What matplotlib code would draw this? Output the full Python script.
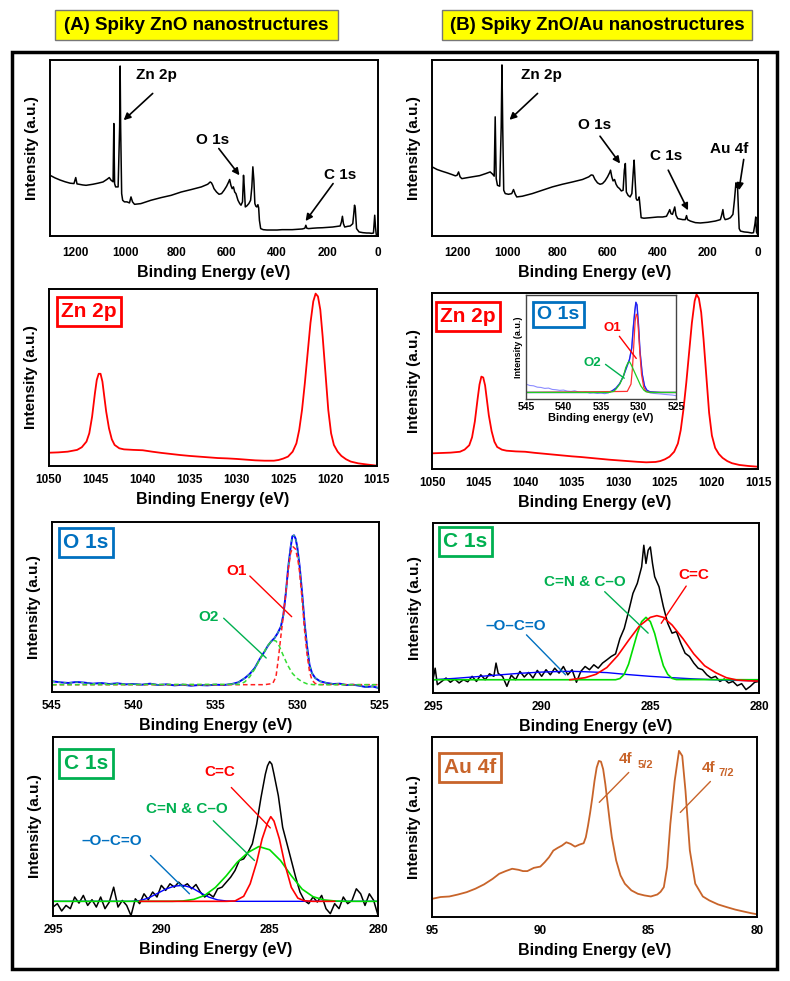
import matplotlib
matplotlib.use('Agg')
import matplotlib.pyplot as plt
from matplotlib.patches import Rectangle

plt.rcParams['font.family'] = ['Liberation Sans', 'DejaVu Sans']
plt.rcParams['font.weight'] = 'bold'

RED = '#FF0000'
GREEN = '#00B050'
BLUE = '#0070C0'
AU = '#C8642A'

# ---- survey spectra (eV, normalised intensity) ----
surv_a_ev = [1300, 1280, 1260, 1240, 1220, 1205, 1198, 1193, 1185, 1170, 1157, 1130, 1110, 1090, 1075,
             1065, 1058, 1050, 1047, 1044, 1040, 1030, 1024, 1022, 1020, 1016, 1012, 1005, 995, 985,
             979, 973, 965, 940, 900, 860, 820, 780, 740, 700, 675, 665, 660, 655, 650, 640, 630, 620,
             610, 600, 592, 588, 583, 578, 573, 568, 563, 555, 548, 543, 537, 533, 530, 526, 520, 512,
             505, 500, 496, 492, 488, 484, 480, 476, 473, 470, 465, 455, 440, 420, 400, 380, 360, 340,
             320, 300, 290, 286, 282, 275, 260, 240, 220, 200, 180, 160, 150, 145, 141, 137, 132, 120,
             110, 100, 96, 93, 90, 85, 75, 60, 45, 35, 25, 18, 13, 10, 7, 3, 0]
surv_a_int = [34.5, 33.0, 31.8, 30.8, 30.0, 29.8, 33.2, 29.6, 29.4, 29.0, 28.8, 29.4, 30.0, 30.7, 32.1,
              33.2, 31.7, 30.8, 63.9, 29.8, 27.9, 27.9, 62.0, 96.6, 62.0, 24.1, 20.3, 19.4, 19.4, 18.8,
              22.2, 19.4, 18.0, 18.4, 20.3, 21.8, 23.1, 25.0, 26.4, 27.9, 29.4, 30.7, 30.2, 28.8, 26.9,
              25.0, 23.7, 24.1, 26.0, 28.3, 30.7, 32.1, 28.8, 26.9, 27.9, 25.0, 24.1, 20.3, 18.4, 17.5,
              19.4, 34.5, 27.9, 16.5, 17.1, 18.4, 20.3, 27.9, 39.3, 31.7, 18.4, 16.9, 16.5, 17.8, 16.0,
              8.9, 4.2, 3.6, 3.4, 3.4, 3.4, 3.6, 3.6, 3.6, 3.8, 4.0, 4.4, 6.1, 4.4, 4.2, 4.4, 4.6, 4.7,
              4.9, 5.1, 5.5, 5.7, 8.0, 11.2, 7.0, 5.1, 5.5, 5.7, 7.0, 12.7, 17.5, 15.6, 4.2, 2.3, 1.9,
              1.7, 1.7, 1.5, 1.7, 11.8, 5.1, 0.9, 0.6, 0.4]

surv_b_ev = [1300, 1280, 1260, 1240, 1220, 1207, 1200, 1194, 1188, 1181, 1165, 1140, 1110, 1085, 1068,
             1058, 1052, 1048, 1044, 1039, 1030, 1024, 1021, 1018, 1014, 1008, 995, 982, 975, 968, 962,
             940, 900, 860, 820, 780, 740, 700, 675, 665, 658, 650, 640, 630, 620, 610, 600, 592, 588,
             583, 578, 572, 566, 560, 552, 545, 538, 533, 529, 525, 518, 510, 503, 497, 494, 490, 486,
             482, 477, 474, 470, 466, 455, 430, 400, 380, 365, 356, 352, 347, 341, 336, 332, 327, 320,
             300, 290, 285, 281, 270, 250, 230, 200, 170, 150, 145, 140, 136, 131, 120, 110, 100, 94,
             88, 85, 82, 79, 75, 70, 55, 40, 25, 18, 12, 9, 6, 3, 0]
surv_b_int = [39.3, 37.8, 36.8, 35.9, 34.9, 34.2, 34.5, 36.4, 33.6, 32.6, 33.0, 33.6, 34.3, 35.5, 36.4,
              35.1, 34.0, 67.7, 32.6, 28.8, 28.3, 62.0, 97.2, 62.0, 26.0, 24.1, 23.7, 24.1, 26.4, 23.7,
              22.2, 22.6, 24.1, 26.0, 27.9, 29.4, 30.7, 32.1, 33.6, 34.7, 34.5, 32.1, 30.2, 29.4, 29.8,
              31.3, 33.6, 35.9, 37.4, 33.6, 31.3, 32.1, 29.4, 27.9, 26.9, 25.6, 26.0, 37.4, 41.2, 25.0,
              23.1, 22.2, 24.1, 37.4, 43.1, 31.7, 21.3, 20.3, 20.7, 22.2, 16.5, 10.4, 10.1, 10.4, 10.8,
              10.8, 11.2, 13.7, 15.0, 12.7, 12.3, 14.6, 16.5, 11.8, 9.9, 9.3, 9.3, 11.6, 9.3, 8.5, 7.6,
              7.4, 7.8, 8.5, 9.3, 11.8, 15.0, 10.8, 9.3, 9.7, 10.4, 12.3, 20.3, 30.2, 27.9, 29.4, 18.4,
              4.2, 2.8, 2.3, 2.1, 1.7, 1.9, 7.0, 10.8, 2.3, 1.3, 0.6]

# ---- Zn 2p ----
zn_a_ev = [1050, 1049, 1048, 1047, 1046.5, 1046, 1045.7, 1045.4, 1045.1, 1044.9, 1044.7, 1044.5, 1044.3,
           1044.1, 1043.9, 1043.6, 1043.3, 1043, 1042.5, 1042, 1041, 1040, 1039, 1038, 1037, 1036, 1035,
           1034, 1033, 1032, 1031, 1030, 1029, 1028, 1027, 1026, 1025.5, 1025, 1024.5, 1024, 1023.6,
           1023.3, 1023, 1022.7, 1022.4, 1022.1, 1021.8, 1021.55, 1021.3, 1021.05, 1020.8, 1020.5,
           1020.2, 1019.9, 1019.6, 1019.2, 1018.8, 1018.3, 1017.8, 1017, 1016, 1015]
zn_a_int = [7.5, 7.7, 8.1, 9.1, 10.6, 13.8, 18.5, 27.9, 41.1, 48.7, 52.1, 52.1, 47.7, 39.2, 30.8, 21.3,
            15.1, 11.9, 10.0, 9.4, 9.1, 8.9, 8.1, 7.4, 6.8, 6.2, 5.7, 5.3, 4.9, 4.5, 4.3, 4.0, 3.6, 3.2,
            3.0, 3.0, 3.4, 4.2, 5.3, 8.1, 12.8, 20.4, 31.7, 46.8, 63.8, 80.8, 93.0, 97.4, 95.8, 88.3,
            73.2, 52.5, 31.7, 18.5, 11.9, 8.1, 5.7, 3.8, 2.5, 1.5, 0.8, 0.2]
zn_b_ev = [1050, 1049, 1048, 1047, 1046.5, 1046, 1045.7, 1045.4, 1045.1, 1044.9, 1044.7, 1044.5, 1044.3,
           1044.1, 1043.9, 1043.6, 1043.3, 1043, 1042.5, 1042, 1041, 1040, 1039, 1038, 1037, 1036, 1035,
           1034, 1033, 1032, 1031, 1030, 1029, 1028, 1027, 1026, 1025.5, 1025, 1024.5, 1024, 1023.6,
           1023.3, 1023, 1022.7, 1022.4, 1022.1, 1021.8, 1021.6, 1021.35, 1021.1, 1020.85, 1020.55,
           1020.25, 1019.95, 1019.6, 1019.2, 1018.8, 1018.3, 1017.8, 1017, 1016, 1015]
zn_b_int = [8.9, 9.1, 9.3, 9.8, 11.0, 13.5, 18.0, 27.0, 40.0, 48.0, 52.5, 52.0, 47.5, 39.0, 30.5, 21.5,
            15.5, 12.5, 11.0, 10.4, 10.0, 9.8, 9.2, 8.7, 8.2, 7.7, 7.2, 6.8, 6.3, 5.8, 5.3, 4.9, 4.5, 4.1,
            3.8, 4.0, 4.5, 5.5, 7.0, 9.8, 14.5, 22.0, 34.0, 49.0, 66.0, 83.0, 95.5, 99.2, 97.0, 89.0,
            74.0, 53.0, 32.0, 19.0, 12.0, 8.5, 6.3, 4.5, 3.3, 2.3, 1.7, 1.3]

# ---- O 1s (A) ----
o_a_ev = [545, 544.5, 544, 543.5, 543, 542.5, 542, 541.5, 541, 540.5, 540, 539.5, 539, 538.5, 538, 537.5,
          537, 536.5, 536, 535.5, 535, 534.5, 534, 533.6, 533.2, 532.9, 532.6, 532.3, 532.0, 531.8, 531.6,
          531.4, 531.2, 531.0, 530.85, 530.7, 530.55, 530.4, 530.3, 530.2, 530.1, 530.0, 529.85, 529.7,
          529.55, 529.4, 529.25, 529.1, 528.9, 528.6, 528.2, 527.8, 527.4, 527, 526.6, 526.2, 525.8,
          525.4, 525]
o_a_int = [6.3, 5.7, 5.3, 5.9, 5.5, 4.9, 5.3, 4.7, 5.1, 4.5, 4.7, 4.3, 4.9, 4.1, 4.5, 3.9, 4.3, 3.7, 4.1,
           3.9, 4.3, 4.1, 4.7, 5.7, 8.2, 10.7, 14.1, 19.3, 23.8, 27.1, 29.7, 31.6, 34.6, 38.5, 45.3, 58.0,
           73.6, 85.4, 91.6, 92.2, 90.2, 85.4, 73.6, 58.0, 40.4, 26.8, 16.0, 11.1, 8.2, 6.3, 5.3, 4.7,
           4.9, 4.1, 4.3, 3.7, 2.9, 3.3, 2.3]
o1_a_ev = [545, 535, 532, 531.5, 531.3, 531.15, 531.0, 530.85, 530.7, 530.55, 530.4, 530.25, 530.1,
           529.95, 529.85, 529.7, 529.55, 529.4, 529.25, 529.1, 528.9, 528.6, 525]
o1_a_int = [4.3, 4.3, 4.3, 5.0, 9.0, 20.0, 33.0, 45.0, 58.0, 72.0, 82.0, 85.4, 84.0, 77.0, 70.0, 54.0,
            36.0, 22.0, 12.0, 7.0, 5.0, 4.4, 4.3]
o2_a_ev = [545, 533.5, 533.2, 532.9, 532.6, 532.3, 532.0, 531.75, 531.5, 531.3, 531.1, 530.9, 530.6,
           530.3, 530.0, 529.7, 529.4, 529.0, 525]
o2_a_int = [4.3, 4.5, 6.0, 9.0, 13.5, 19.0, 24.0, 28.0, 30.5, 30.0, 27.0, 22.5, 16.0, 11.0, 8.0, 6.0,
            4.8, 4.3, 4.3]

# ---- O 1s inset (B) ----
ins_raw_ev = [545, 544.5, 544, 543.5, 543, 542.5, 542, 541.5, 541, 540.5, 540, 539.5, 539, 538.5, 538,
              537.5, 537, 536.5, 536, 535.5, 535, 534.5, 534, 533.5, 533, 532.5, 532, 531.6, 531.2,
              530.9, 530.7, 530.5, 530.35, 530.2, 530.0, 529.8, 529.5, 529.2, 528.9, 528.5, 528, 527.5,
              527, 526.5, 526, 525.5, 525]
ins_raw_int = [14.3, 13.0, 12.7, 11.4, 11.1, 10.2, 10.5, 9.2, 8.9, 8.3, 8.6, 7.6, 7.3, 7.9, 6.7, 6.3, 6.7,
               5.7, 6.0, 5.4, 5.7, 5.1, 6.0, 7.9, 10.5, 14.9, 22.2, 30.2, 38.1, 49.2, 68.3, 84.1, 93.0,
               90.5, 71.4, 46.0, 23.8, 12.7, 8.6, 6.0, 5.4, 5.1, 4.8, 4.4, 4.1, 3.8, 3.2]
ins_env_ev = [545, 534, 533.5, 533, 532.5, 532, 531.6, 531.2, 530.9, 530.7, 530.5, 530.35, 530.2, 530.0,
              529.8, 529.5, 529.2, 528.9, 528.5, 527, 525]
ins_env_int = [6.3, 6.3, 7.9, 10.5, 14.9, 22.2, 30.2, 38.1, 49.2, 68.3, 84.1, 93.0, 90.5, 71.4, 46.0,
               23.8, 12.7, 8.6, 7.0, 6.3, 6.3]
ins_o1_ev = [545, 531.5, 531.0, 530.8, 530.6, 530.45, 530.3, 530.15, 530.0, 529.8, 529.6, 529.3, 529.0,
             528.5, 525]
ins_o1_int = [6.3, 7.3, 14.3, 30.2, 55.6, 74.6, 81.6, 79.4, 65.1, 42.9, 23.8, 11.1, 7.3, 6.3, 6.3]
ins_o2_ev = [545, 534.0, 533.3, 533.0, 532.5, 532.0, 531.7, 531.4, 531.2, 531.0, 530.7, 530.3, 530.0,
             529.7, 529.3, 529.0, 528.5, 525]
ins_o2_int = [6.3, 6.3, 7.3, 9.5, 14.3, 22.2, 30.2, 35.0, 35.9, 33.3, 28.6, 22.2, 17.5, 12.7, 8.6, 7.0,
              6.3, 6.3]

# ---- C 1s (A) ----
c_a_ev = [295.0, 294.8, 294.6, 294.4, 294.2, 294.0, 293.8, 293.6, 293.4, 293.2, 293.0, 292.8, 292.6,
          292.4, 292.2, 292.0, 291.8, 291.6, 291.4, 291.2, 291.0, 290.8, 290.6, 290.4, 290.2, 290.0,
          289.8, 289.6, 289.4, 289.2, 289.0, 288.8, 288.6, 288.4, 288.2, 288.0, 287.8, 287.6, 287.4,
          287.2, 287.0, 286.8, 286.6, 286.4, 286.2, 286.0, 285.8, 285.6, 285.4, 285.2, 285.1, 285.0,
          284.9, 284.8, 284.6, 284.4, 284.2, 284.0, 283.8, 283.6, 283.4, 283.2, 283.0, 282.8, 282.6,
          282.4, 282.2, 282.0, 281.8, 281.6, 281.4, 281.2, 281.0, 280.8, 280.6, 280.4, 280.2, 280.0]
c_a_int = [5.0, 6.9, 2.8, 5.9, 4.1, 10.6, 7.2, 11.5, 5.9, 9.1, 5.0, 10.6, 4.1, 7.8, 16.1, 5.0, 8.7, 5.9,
           0.2, 9.6, 6.9, 12.4, 9.1, 13.4, 10.6, 17.1, 14.3, 18.0, 16.1, 18.9, 16.5, 18.0, 15.2, 17.6,
           13.4, 10.6, 12.4, 10.6, 15.2, 16.1, 18.9, 21.7, 25.4, 31.0, 31.9, 35.6, 40.3, 51.4, 66.2, 79.2,
           83.9, 86.3, 84.8, 79.2, 67.2, 49.5, 40.3, 31.0, 21.7, 13.4, 8.7, 6.9, 10.6, 7.8, 11.5, 4.1,
           1.3, 6.9, 4.1, 10.6, 6.9, 8.7, 15.2, 12.4, 5.9, 12.4, 8.7, 0.4]
c_a_blue_ev = [295, 291.4, 291.0, 290.6, 290.2, 289.8, 289.4, 289.0, 288.6, 288.2, 287.8, 287.4, 287.0,
               286.5, 280]
c_a_blue_int = [8.2, 8.2, 8.6, 10.0, 12.5, 15.0, 16.7, 17.1, 15.8, 13.0, 10.5, 9.0, 8.4, 8.2, 8.2]
c_a_green_ev = [295, 289.5, 289.0, 288.5, 288.0, 287.5, 287.0, 286.5, 286.0, 285.5, 285.0, 284.5, 284.0,
                283.5, 283.0, 282.5, 282.0, 281.5, 280]
c_a_green_int = [8.2, 8.2, 8.4, 9.3, 11.5, 16.0, 22.5, 30.0, 35.5, 38.8, 37.0, 31.0, 22.5, 15.0, 10.8,
                 9.0, 8.4, 8.2, 8.2]
c_a_red_ev = [291, 287.0, 286.6, 286.2, 285.9, 285.6, 285.35, 285.1, 284.95, 284.8, 284.55, 284.3,
              284.0, 283.7, 283.4, 283.0, 282]
c_a_red_int = [8.2, 8.2, 8.4, 11.0, 18.0, 30.0, 43.0, 52.0, 55.5, 53.0, 43.0, 29.0, 16.0, 10.0, 8.5,
               8.2, 8.2]

# ---- C 1s (B) ----
c_b_ev = [295.0, 294.9, 294.8, 294.6, 294.4, 294.2, 294.0, 293.8, 293.6, 293.4, 293.2, 293.0, 292.8,
          292.6, 292.4, 292.2, 292.1, 292.0, 291.8, 291.6, 291.4, 291.2, 291.0, 290.8, 290.6, 290.4,
          290.2, 290.0, 289.8, 289.6, 289.4, 289.2, 289.0, 288.8, 288.6, 288.4, 288.2, 288.0, 287.8,
          287.6, 287.4, 287.2, 287.0, 286.8, 286.6, 286.4, 286.2, 286.0, 285.8, 285.6, 285.4, 285.3,
          285.2, 285.1, 285.0, 284.9, 284.8, 284.6, 284.4, 284.2, 284.0, 283.8, 283.6, 283.4, 283.2,
          283.0, 282.8, 282.6, 282.4, 282.2, 282.0, 281.8, 281.6, 281.4, 281.2, 281.0, 280.8, 280.6,
          280.4, 280.2, 280.0]
c_b_int = [7.8, 14.6, 4.9, 6.8, 8.8, 6.3, 8.2, 5.9, 7.8, 6.6, 9.8, 6.8, 10.7, 7.8, 11.3, 9.8, 17.6, 11.5,
           9.8, 3.9, 10.5, 7.8, 12.7, 9.4, 12.1, 8.8, 13.3, 9.8, 13.7, 10.7, 14.6, 11.7, 15.6, 10.7, 13.7,
           6.3, 12.7, 15.6, 13.7, 16.6, 14.6, 17.6, 19.5, 21.5, 23.0, 32.0, 38.0, 48.0, 58.6, 64.5, 74.2,
           86.9, 76.2, 84.0, 85.9, 76.2, 68.4, 62.5, 50.8, 41.0, 35.2, 36.1, 29.3, 23.4, 21.5, 17.6,
           14.6, 13.7, 10.7, 8.8, 9.8, 6.8, 8.2, 5.9, 6.8, 4.3, 5.5, 2.0, 3.9, 6.3, 6.8]
c_b_blue_ev = [295, 294, 293, 292, 291, 290, 289, 288.5, 288, 287, 286, 285, 284, 283, 282, 281, 280]
c_b_blue_int = [7.8, 8.6, 9.6, 10.6, 11.6, 12.3, 12.7, 12.7, 12.5, 12.0, 10.8, 9.8, 9.0, 8.3, 7.8,
                7.4, 7.2]
c_b_green_ev = [295, 286.6, 286.4, 286.2, 286.0, 285.8, 285.6, 285.4, 285.2, 285.0, 284.8, 284.6, 284.4,
                284.2, 284.0, 283.8, 280]
c_b_green_int = [7.8, 7.8, 8.5, 11.0, 17.0, 26.0, 35.0, 42.0, 44.5, 42.0, 35.0, 25.0, 16.0, 11.0, 8.6,
                 7.9, 7.8]
c_b_red_ev = [288.7, 288.0, 287.5, 287.0, 286.5, 286.0, 285.5, 285.0, 284.7, 284.4, 284.0, 283.5, 283.0,
              282.5, 282.0, 281.5, 281.0, 280.5, 280.0]
c_b_red_int = [7.8, 9.0, 11.0, 15.0, 22.0, 31.0, 39.5, 44.5, 45.5, 44.5, 40.0, 32.0, 23.0, 16.0, 12.0,
               9.0, 7.6, 7.2, 7.0]

# ---- Au 4f ----
au_ev = [95.0, 94.6, 94.2, 93.8, 93.4, 93.0, 92.6, 92.2, 91.9, 91.6, 91.3, 91.0, 90.8, 90.6, 90.3, 90.0,
         89.8, 89.6, 89.4, 89.2, 89.0, 88.8, 88.6, 88.4, 88.2, 88.0, 87.9, 87.8, 87.7, 87.6, 87.5, 87.4,
         87.3, 87.2, 87.1, 87.0, 86.9, 86.8, 86.7, 86.5, 86.3, 86.1, 85.8, 85.5, 85.2, 84.9, 84.6, 84.45,
         84.3, 84.15, 84.0, 83.8, 83.6, 83.45, 83.3, 83.1, 82.85, 82.5, 82.2, 81.8, 81.4, 81.0, 80.6,
         80.3, 80.0]
au_int = [10.1, 11.1, 11.4, 12.5, 13.8, 15.7, 18.1, 21.2, 24.0, 25.5, 26.8, 26.2, 25.5, 25.5, 27.3, 28.0,
          30.4, 33.2, 36.9, 38.4, 39.7, 41.5, 40.6, 39.1, 40.2, 41.0, 44.3, 50.7, 58.1, 66.4, 75.6, 83.0,
          86.7, 86.3, 82.1, 73.8, 63.7, 53.5, 44.3, 31.4, 23.1, 18.5, 14.8, 12.9, 12.0, 11.4, 12.5, 14.0,
          16.6, 27.7, 51.7, 75.6, 92.3, 89.5, 70.0, 37.0, 18.5, 11.4, 9.2, 7.0, 5.5, 4.1, 3.0, 2.2, 1.5]

W, H = 790, 981
fig = plt.figure(figsize=(W / 100, H / 100), dpi=100)


def add_ax(l, r, t, b):
    return fig.add_axes([l / W, 1 - b / H, (r - l) / W, (b - t) / H])


def style(ax, xlim, xticks):
    ax.set_xlim(*xlim)
    ax.set_ylim(0, 100)
    ax.set_xticks(xticks)
    ax.set_yticks([])
    ax.tick_params(axis='x', length=0, pad=6, labelsize=8.5)
    for s in ax.spines.values():
        s.set_linewidth(1.4)
    ax.set_xlabel('Binding Energy (eV)', fontsize=11.5, fontweight='bold', labelpad=4)
    ax.set_ylabel('Intensity (a.u.)', fontsize=11, fontweight='bold', labelpad=8)


def tag(ax, s, color, fx, fy, size=15):
    ax.text(fx, fy, s, transform=ax.transAxes, color=color, fontsize=size, fontweight='bold',
            ha='left', va='top',
            bbox=dict(boxstyle='square,pad=0.22', fc='white', ec=color, lw=2))


def label(ax, s, color, pos, start, end, size=11):
    ax.text(pos[0], pos[1], s, color=color, fontsize=size, fontweight='bold', ha='center', va='center')
    ax.annotate('', xy=end, xytext=start,
                arrowprops=dict(arrowstyle='-', color=color, lw=1, shrinkA=0, shrinkB=0))


def arrow(ax, s, pos, start, end):
    ax.text(pos[0], pos[1], s, fontsize=11, fontweight='bold', ha='center', va='center')
    ax.annotate('', xy=end, xytext=start,
                arrowprops=dict(arrowstyle='-|>', color='k', lw=1.2, mutation_scale=10,
                                shrinkA=0, shrinkB=0))


# header boxes and outer frame
for (x0, y0, x1, y1, s) in [(55, 10, 338, 40, '(A) Spiky ZnO nanostructures'),
                            (442, 10, 752, 40, '(B) Spiky ZnO/Au nanostructures')]:
    fig.add_artist(Rectangle((x0 / W, 1 - y1 / H), (x1 - x0) / W, (y1 - y0) / H,
                             transform=fig.transFigure, fc='#FFFF00', ec='#777777', lw=1))
    fig.text((x0 + x1) / 2 / W, 1 - (y0 + y1) / 2 / H, s, fontsize=13.5, fontweight='bold',
             ha='center', va='center')
fig.add_artist(Rectangle((12 / W, 1 - 969 / H), 765 / W, 917 / H, transform=fig.transFigure,
                         fill=False, ec='black', lw=2.5))

survey_ticks = [1200, 1000, 800, 600, 400, 200, 0]

# row 1: surveys
ax = add_ax(50, 378, 60, 236)
ax.plot(surv_a_ev, surv_a_int, color='black', lw=1.1)
style(ax, (1300, 0), survey_ticks)
ax.tick_params(axis='x', pad=8)
arrow(ax, 'Zn 2p', (879, 91.5), (893, 81), (1008, 65.8))
arrow(ax, 'O 1s', (655, 54.5), (631, 49.7), (549, 34.5))
arrow(ax, 'C 1s', (152, 34.5), (178, 29.8), (287, 8.5))

ax = add_ax(432, 758, 60, 236)
ax.plot(surv_b_ev, surv_b_int, color='black', lw=1.1)
style(ax, (1300, 0), survey_ticks)
ax.tick_params(axis='x', pad=8)
arrow(ax, 'Zn 2p', (862, 91.5), (879, 81), (991, 66))
arrow(ax, 'O 1s', (653, 63), (630, 56.7), (550, 41.2))
arrow(ax, 'C 1s', (365, 45.4), (358, 37.4), (279, 14.6))
arrow(ax, 'Au 4f', (113, 49.7), (57, 43.5), (76, 26))

# row 2: Zn 2p
zn_ticks = [1050, 1045, 1040, 1035, 1030, 1025, 1020, 1015]
ax = add_ax(49, 377, 289, 466)
ax.plot(zn_a_ev, zn_a_int, color=RED, lw=1.3)
style(ax, (1050, 1015), zn_ticks)
tag(ax, 'Zn 2p', RED, 0.037, 0.927)

ax = add_ax(432, 758, 293, 469)
ax.plot(zn_b_ev, zn_b_int, color=RED, lw=1.3)
style(ax, (1050, 1015), zn_ticks)
tag(ax, 'Zn 2p', RED, 0.025, 0.92)

# inset O 1s
ins = add_ax(526, 676, 295, 399)
ins.plot(ins_raw_ev, ins_raw_int, color='#8C8CFF', lw=0.8)
ins.plot(ins_env_ev, ins_env_int, color='#2020F0', lw=1.0)
ins.plot(ins_o1_ev, ins_o1_int, color='#FF3030', lw=0.9)
ins.plot(ins_o2_ev, ins_o2_int, color='#22CC22', lw=0.9)
ins.set_xlim(545, 525)
ins.set_ylim(0, 100)
ins.set_xticks([545, 540, 535, 530, 525])
ins.set_yticks([])
ins.tick_params(axis='x', length=0, pad=2, labelsize=7.5)
for s in ins.spines.values():
    s.set_linewidth(1.0)
    s.set_color('#444444')
ins.set_xlabel('Binding energy (eV)', fontsize=8, fontweight='bold', labelpad=1)
ins.set_ylabel('Intensity (a.u.)', fontsize=6.5, fontweight='bold', labelpad=2)
tag(ins, 'O 1s', BLUE, 0.074, 0.895, size=14)
label(ins, 'O1', RED, (533.45, 68.3), (532.55, 60.3), (530.3, 39), size=9.5)
label(ins, 'O2', GREEN, (536.1, 34.3), (534.4, 33.3), (531.9, 20), size=9.5)

# row 3: O 1s (A) and C 1s (B)
ax = add_ax(52, 379, 522, 692)
ax.plot(o_a_ev, o_a_int, color='#0000FF', lw=1.4)
ax.plot(o_a_ev, o_a_int, color='#44DD66', lw=0.7, ls=(0, (3, 3)))
ax.plot(o1_a_ev, o1_a_int, color='#FF2020', lw=1.1, ls=(0, (3, 2)))
ax.plot(o2_a_ev, o2_a_int, color='#33DD33', lw=1.1, ls=(0, (3, 2)))
style(ax, (545, 525), [545, 540, 535, 530, 525])
tag(ax, 'O 1s', BLUE, 0.034, 0.935)
label(ax, 'O1', RED, (533.7, 71.3), (532.9, 68.2), (530.34, 44.3))
label(ax, 'O2', GREEN, (535.4, 44.3), (534.5, 43.4), (531.9, 20))

c_ticks = [295, 290, 285, 280]
ax = add_ax(433, 759, 523, 693)
ax.plot(c_b_ev, c_b_int, color='black', lw=1.1)
ax.plot(c_b_blue_ev, c_b_blue_int, color='#0000FF', lw=1.0)
ax.plot(c_b_green_ev, c_b_green_int, color='#00DD00', lw=1.2)
ax.plot(c_b_red_ev, c_b_red_int, color='#FF0000', lw=1.2)
style(ax, (295, 280), c_ticks)
tag(ax, 'C 1s', GREEN, 0.031, 0.947)
label(ax, 'C=N & C\u2013O', GREEN, (288.0, 65.4), (287.1, 59.6), (285.1, 35.2))
label(ax, 'C=C', RED, (283.0, 69.3), (283.35, 62.9), (284.5, 41))
label(ax, '\u2013O\u2013C=O', BLUE, (291.2, 39.5), (290.7, 34.2), (288.9, 10.7))

# row 4: C 1s (A) and Au 4f (B)
ax = add_ax(53, 378, 737, 916)
ax.plot(c_a_ev, c_a_int, color='black', lw=1.1)
ax.plot(c_a_blue_ev, c_a_blue_int, color='#0000FF', lw=1.0)
ax.plot(c_a_green_ev, c_a_green_int, color='#00DD00', lw=1.2)
ax.plot(c_a_red_ev, c_a_red_int, color='#FF0000', lw=1.2)
style(ax, (295, 280), c_ticks)
tag(ax, 'C 1s', GREEN, 0.034, 0.905)
label(ax, 'C=C', RED, (287.28, 80.7), (286.77, 71.8), (284.97, 49.2))
label(ax, 'C=N & C\u2013O', GREEN, (288.8, 59.7), (287.6, 53.2), (285.7, 31))
label(ax, '\u2013O\u2013C=O', BLUE, (292.3, 42.1), (290.5, 33.8), (288.7, 12.4))

ax = add_ax(432, 757, 737, 917)
ax.plot(au_ev, au_int, color=AU, lw=1.3)
style(ax, (95, 80), [95, 90, 85, 80])
tag(ax, 'Au 4f', AU, 0.037, 0.883)
for (px, py, sx, sy, sub, start, end) in [(86.05, 87.6, 85.17, 84.5, '5/2', (85.92, 80.3), (87.28, 63.7)),
                                          (82.25, 83.0, 81.4, 79.9, '7/2', (82.15, 75.3), (83.54, 58.1))]:
    ax.text(px, py, '4f', color=AU, fontsize=11, fontweight='bold', ha='center', va='center')
    ax.text(sx, sy, sub, color=AU, fontsize=8, fontweight='bold', ha='center', va='center')
    ax.annotate('', xy=end, xytext=start,
                arrowprops=dict(arrowstyle='-', color=AU, lw=1, shrinkA=0, shrinkB=0))

fig.savefig('out.png', dpi=100)
